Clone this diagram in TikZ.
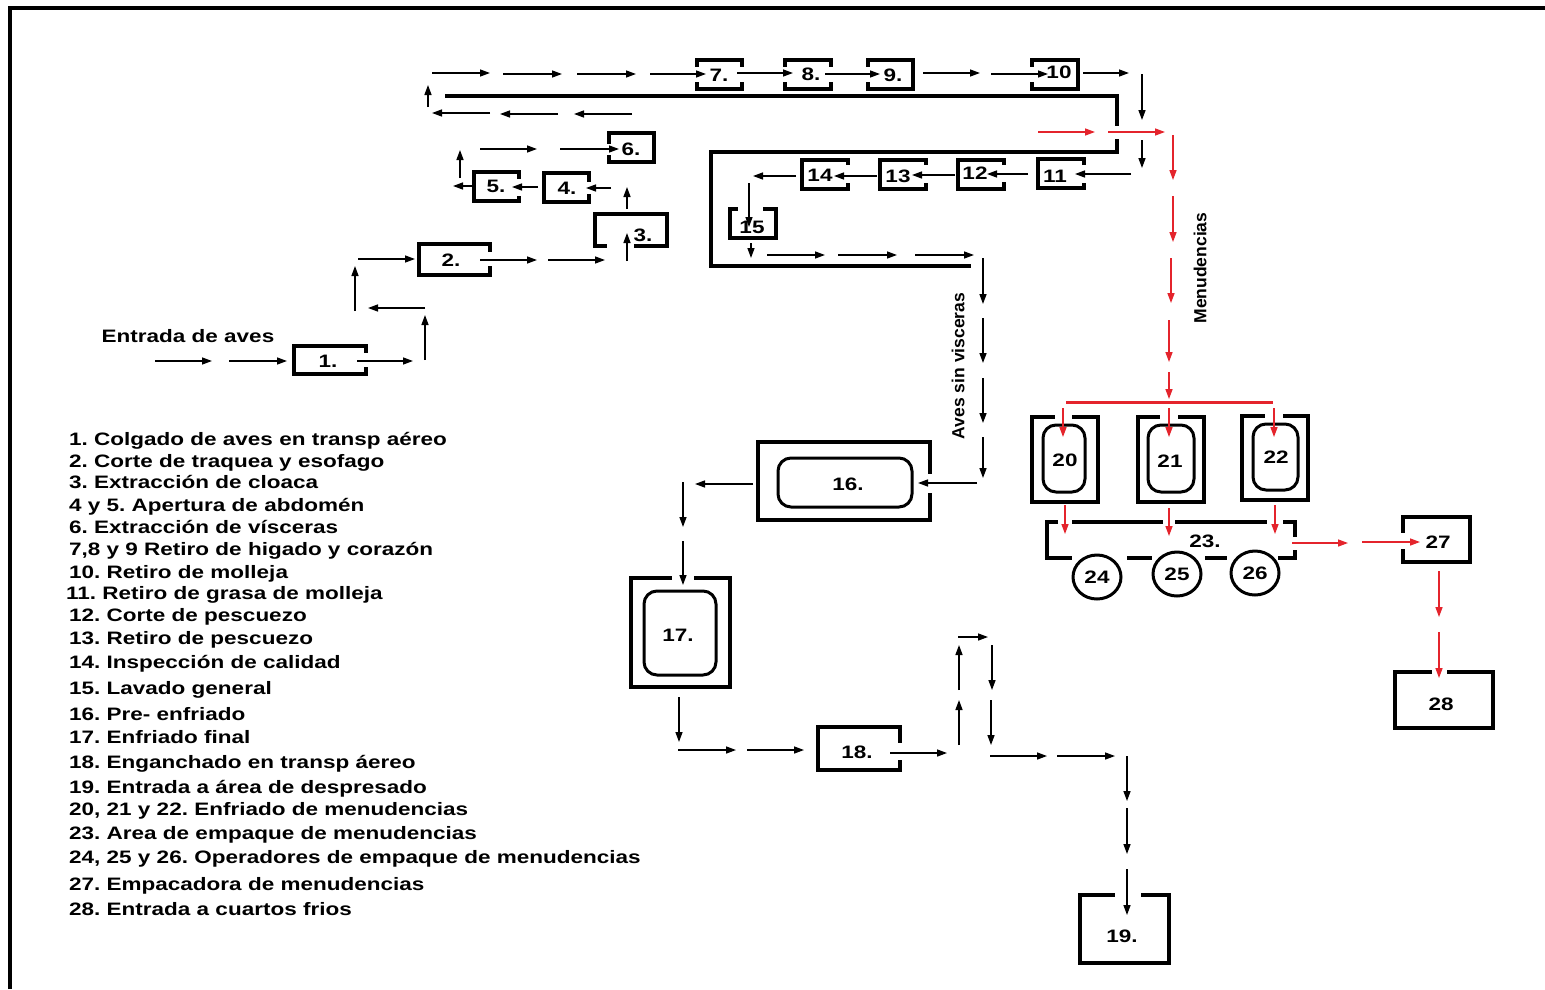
\documentclass[tikz,border=0pt]{standalone}
\usepackage{fontspec}
\setmainfont{Liberation Sans}
\newfontfamily\lbf{Liberation Sans}[FakeStretch=1.25]
\usetikzlibrary{arrows.meta,shapes.geometric}
\definecolor{myred}{RGB}{228,36,44}
\frenchspacing
\begin{document}
\frenchspacing
\begin{tikzpicture}[x=1pt,y=-1pt,
  box/.style={draw, line width=3.5pt, rectangle, inner sep=0pt},
  rbox/.style={draw, line width=3pt, rectangle, rounded corners=13pt, inner sep=0pt},
  circ/.style={draw, line width=3pt, ellipse, inner sep=0pt, minimum width=48, minimum height=44, font=\lbf\bfseries\fontsize{18}{20}\selectfont},
  lbl/.style={font=\lbf\bfseries\fontsize{18}{20}\selectfont, inner sep=0pt},
  leg/.style={font=\lbf\bfseries\fontsize{18}{20}\selectfont, anchor=base west, inner sep=0pt},
  vtxt/.style={font=\bfseries\fontsize{17.5}{20}\selectfont, rotate=90, inner sep=0pt},
  arr/.style={line width=1.4pt, -{Triangle[length=10pt,width=7pt]}},
  rarr/.style={arr, color=myred},
  wall/.style={line width=4pt},
  gapfill/.style={fill=white, draw=none}
]
\useasboundingbox (0,0) rectangle (1545,989);
\fill[white] (0,0) rectangle (1545,989);
% outer frame
\draw[wall] (10,989) -- (10,8) -- (1545,8);

% thick walls
\draw[wall] (445,96) -- (1117,96) -- (1117,126);
\draw[wall] (1117,139) -- (1117,152) -- (711,152) -- (711,266) -- (971,266);

% boxes
\node[box, minimum width=72, minimum height=28] (b1) at (330,360) {};
\node[box, minimum width=71, minimum height=31] (b2) at (454.5,259.5) {};
\node[box, minimum width=72, minimum height=32] (b3) at (631,230) {};
\node[box, minimum width=45, minimum height=29] (b4) at (566.5,187.5) {};
\node[box, minimum width=45, minimum height=29] (b5) at (496.5,186.5) {};
\node[box, minimum width=45, minimum height=29] (b6) at (631.5,147.5) {};
\node[box, minimum width=45, minimum height=29] (b7) at (719.5,74.5) {};
\node[box, minimum width=46, minimum height=29] (b8) at (808,74.5) {};
\node[box, minimum width=45, minimum height=29] (b9) at (890.5,74.5) {};
\node[box, minimum width=46, minimum height=29] (b10) at (1055,74.5) {};
\node[box, minimum width=46, minimum height=29] (b11) at (1061,173.5) {};
\node[box, minimum width=46, minimum height=29] (b12) at (981,174.5) {};
\node[box, minimum width=46, minimum height=29] (b13) at (903,174.5) {};
\node[box, minimum width=46, minimum height=29] (b14) at (825,174.5) {};
\node[box, minimum width=46, minimum height=29] (b15) at (753,223.5) {};
\node[box, minimum width=172, minimum height=78] (b16) at (844,481) {};
\node[rbox, minimum width=134, minimum height=49] (r16) at (845,482.5) {};
\node[box, minimum width=99, minimum height=109] (b17) at (680.5,632.5) {};
\node[rbox, minimum width=72, minimum height=84] (r17) at (680,633) {};
\node[box, minimum width=82, minimum height=43] (b18) at (859,748.5) {};
\node[box, minimum width=89, minimum height=68] (b19) at (1124.5,929) {};
\node[box, minimum width=66, minimum height=85] (b20) at (1065,459.5) {};
\node[rbox, minimum width=42, minimum height=67] (r20) at (1064,458.5) {};
\node[box, minimum width=66, minimum height=85] (b21) at (1171,459.5) {};
\node[rbox, minimum width=46, minimum height=67] (r21) at (1171,458.5) {};
\node[box, minimum width=66, minimum height=84] (b22) at (1275,458) {};
\node[rbox, minimum width=45, minimum height=66] (r22) at (1275.5,457) {};
\node[box, minimum width=67, minimum height=45] (b27) at (1436.5,539.5) {};
\node[box, minimum width=98, minimum height=56] (b28) at (1444,700) {};

% box 23 (bracket shape)
\draw[line width=3.5pt] (1058,522) -- (1047,522) -- (1047,558) -- (1072,558);
\draw[line width=3.5pt] (1072,522) -- (1163,522);
\draw[line width=3.5pt] (1175,522) -- (1267,522);
\draw[line width=3.5pt] (1283,522) -- (1295,522) -- (1295,537);
\draw[line width=3.5pt] (1295,550) -- (1295,558) -- (1278,558);
\draw[line width=3.5pt] (1127,558) -- (1152,558);
\draw[line width=3.5pt] (1205,558) -- (1227,558);

% gaps in box borders
\fill[gapfill] (362,353) rectangle (370,367);
\fill[gapfill] (486,252) rectangle (494,266);
\fill[gapfill] (607,242) rectangle (634,250);
\fill[gapfill] (585,182) rectangle (593,194);
\fill[gapfill] (515,179) rectangle (523,196);
\fill[gapfill] (605,144) rectangle (613,155);
\fill[gapfill] (693,67) rectangle (701,82);
\fill[gapfill] (738,67) rectangle (746,82);
\fill[gapfill] (781,67) rectangle (789,82);
\fill[gapfill] (827,67) rectangle (835,82);
\fill[gapfill] (864,67) rectangle (872,82);
\fill[gapfill] (1028,67) rectangle (1036,82);
\fill[gapfill] (1080,165) rectangle (1088,183);
\fill[gapfill] (1000,165) rectangle (1008,182);
\fill[gapfill] (922,165) rectangle (930,183);
\fill[gapfill] (844,165) rectangle (852,183);
\fill[gapfill] (738,205) rectangle (763,213);
\fill[gapfill] (926,474) rectangle (934,493);
\fill[gapfill] (672,574) rectangle (694,582);
\fill[gapfill] (896,743) rectangle (904,760);
\fill[gapfill] (1115,891) rectangle (1141,899);
\fill[gapfill] (1055,413) rectangle (1072,421);
\fill[gapfill] (1160,413) rectangle (1178,421);
\fill[gapfill] (1265,412) rectangle (1283,420);
\fill[gapfill] (1399,533) rectangle (1407,549);
\fill[gapfill] (1432,668) rectangle (1447,676);

% circles
\node[circ] (c24) at (1097,577) {24};
\node[circ] (c25) at (1177,574) {25};
\node[circ] (c26) at (1255,573) {26};

% box labels
\node[lbl] (t1) at (328,361) {1.};
\node[lbl] (t2) at (451,260) {2.};
\node[lbl] (t3) at (643,235) {3.};
\node[lbl] (t4) at (567,188) {4.};
\node[lbl] (t5) at (496,186) {5.};
\node[lbl] (t6) at (631,149) {6.};
\node[lbl] (t7) at (719,75) {7.};
\node[lbl] (t8) at (811,74) {8.};
\node[lbl] (t9) at (893,75) {9.};
\node[lbl] (t10) at (1059,72) {10};
\node[lbl] (t11) at (1055,176) {11};
\node[lbl] (t12) at (975,173) {12};
\node[lbl] (t13) at (898,176) {13};
\node[lbl] (t14) at (820,175) {14};
\node[lbl] (t15) at (752,227) {15};
\node[lbl] (t16) at (848,484) {16.};
\node[lbl] (t17) at (678,635) {17.};
\node[lbl] (t18) at (857,752) {18.};
\node[lbl] (t19) at (1122,936) {19.};
\node[lbl] (t20) at (1065,460) {20};
\node[lbl] (t21) at (1170,461) {21};
\node[lbl] (t22) at (1276,457) {22};
\node[lbl] (t23) at (1205,541) {23.};
\node[lbl] (t27) at (1438,542) {27};
\node[lbl] (t28) at (1441,704) {28};

% other texts
\node[lbl] (entrada) at (188,336) {Entrada de aves};
\node[vtxt] (aves) at (958,366) {Aves sin visceras};
\node[vtxt] (menu) at (1200,268) {Menudencias};

% red wall
\draw[line width=3pt, myred] (1066,402) -- (1273,402);

% black arrows
\draw[arr] (155,361) -- (212,361);
\draw[arr] (229,361) -- (287,361);
\draw[arr] (357,361) -- (413,361);
\draw[arr] (425,360) -- (425,315);
\draw[arr] (425,308) -- (368,308);
\draw[arr] (355,311) -- (355,266);
\draw[arr] (358,259) -- (415,259);
\draw[arr] (480,260) -- (537,260);
\draw[arr] (548,260) -- (605,260);
\draw[arr] (627,261) -- (627,233);
\draw[arr] (627,209) -- (627,187);
\draw[arr] (611,188) -- (586,188);
\draw[arr] (538,187) -- (512,187);
\draw[arr] (472,186) -- (453,186);
\draw[arr] (460,178) -- (460,150);
\draw[arr] (480,149) -- (537,149);
\draw[arr] (560,149) -- (619,149);
\draw[arr] (428,107) -- (428,85);
\draw[arr] (432,73) -- (490,73);
\draw[arr] (503,74) -- (562,74);
\draw[arr] (577,74) -- (636,74);
\draw[arr] (650,74) -- (706,74);
\draw[arr] (737,73) -- (793,73);
\draw[arr] (825,74) -- (880,74);
\draw[arr] (923,73) -- (980,73);
\draw[arr] (991,74) -- (1048,74);
\draw[arr] (1083,73) -- (1129,73);
\draw[arr] (1142,74) -- (1142,120);
\draw[arr] (1142,140) -- (1142,168);
\draw[arr] (490,113) -- (432,113);
\draw[arr] (558,114) -- (500,114);
\draw[arr] (632,114) -- (574,114);
\draw[arr] (1131,174) -- (1075,174);
\draw[arr] (1028,174) -- (987,174);
\draw[arr] (955,175) -- (912,175);
\draw[arr] (877,176) -- (834,176);
\draw[arr] (796,176) -- (753,176);
\draw[arr] (749,183) -- (749,227);
\draw[arr] (751,243) -- (751,258);
\draw[arr] (767,255) -- (825,255);
\draw[arr] (838,255) -- (897,255);
\draw[arr] (915,255) -- (974,255);
\draw[arr] (983,258) -- (983,304);
\draw[arr] (983,318) -- (983,363);
\draw[arr] (983,378) -- (983,423);
\draw[arr] (983,437) -- (983,478);
\draw[arr] (977,483) -- (918,483);
\draw[arr] (753,484) -- (695,484);
\draw[arr] (683,482) -- (683,527);
\draw[arr] (683,541) -- (683,585);
\draw[arr] (679,697) -- (679,742);
\draw[arr] (678,750) -- (736,750);
\draw[arr] (747,750) -- (804,750);
\draw[arr] (890,753) -- (947,753);
\draw[arr] (959,745) -- (959,700);
\draw[arr] (959,690) -- (959,645);
\draw[arr] (958,637) -- (988,637);
\draw[arr] (992,645) -- (992,690);
\draw[arr] (991,700) -- (991,745);
\draw[arr] (990,756) -- (1047,756);
\draw[arr] (1057,756) -- (1115,756);
\draw[arr] (1127,756) -- (1127,801);
\draw[arr] (1127,808) -- (1127,854);
\draw[arr] (1127,869) -- (1127,915);

% red arrows
\draw[rarr] (1038,132) -- (1095,132);
\draw[rarr] (1108,132) -- (1165,132);
\draw[rarr] (1173,135) -- (1173,180);
\draw[rarr] (1173,196) -- (1173,242);
\draw[rarr] (1171,258) -- (1171,303);
\draw[rarr] (1169,320) -- (1169,362);
\draw[rarr] (1169,372) -- (1169,399);
\draw[rarr] (1063,408) -- (1063,437);
\draw[rarr] (1169,408) -- (1169,437);
\draw[rarr] (1274,408) -- (1274,437);
\draw[rarr] (1065,505) -- (1065,534);
\draw[rarr] (1169,508) -- (1169,536);
\draw[rarr] (1275,505) -- (1275,534);
\draw[rarr] (1292,543) -- (1348,543);
\draw[rarr] (1362,542) -- (1420,542);
\draw[rarr] (1439,571) -- (1439,617);
\draw[rarr] (1439,632) -- (1439,678);

% legend
\node[leg] (l1) at (69,445) {1. Colgado de aves en transp aéreo};
\node[leg] (l2) at (69,467) {2. Corte de traquea y esofago};
\node[leg] (l3) at (69,488) {3. Extracción de cloaca};
\node[leg] (l4) at (69,511) {4 y 5. Apertura de abdomén};
\node[leg] (l5) at (69,533) {6. Extracción de vísceras};
\node[leg] (l6) at (69,555) {7,8 y 9 Retiro de higado y corazón};
\node[leg] (l7) at (69,578) {10. Retiro de molleja};
\node[leg] (l8) at (66,599) {11. Retiro de grasa de molleja};
\node[leg] (l9) at (69,621) {12. Corte de pescuezo};
\node[leg] (l10) at (69,644) {13. Retiro de pescuezo};
\node[leg] (l11) at (69,668) {14. Inspección de calidad};
\node[leg] (l12) at (69,694) {15. Lavado general};
\node[leg] (l13) at (69,720) {16. Pre- enfriado};
\node[leg] (l14) at (69,743) {17. Enfriado final};
\node[leg] (l15) at (69,768) {18. Enganchado en transp áereo};
\node[leg] (l16) at (69,793) {19. Entrada a área de despresado};
\node[leg] (l17) at (69,815) {20, 21 y 22. Enfriado de menudencias};
\node[leg] (l18) at (69,839) {23. Area de empaque de menudencias};
\node[leg] (l19) at (69,863) {24, 25 y 26. Operadores de empaque de menudencias};
\node[leg] (l20) at (69,890) {27. Empacadora de menudencias};
\node[leg] (l21) at (69,915) {28. Entrada a cuartos frios};
\end{tikzpicture}
\end{document}
